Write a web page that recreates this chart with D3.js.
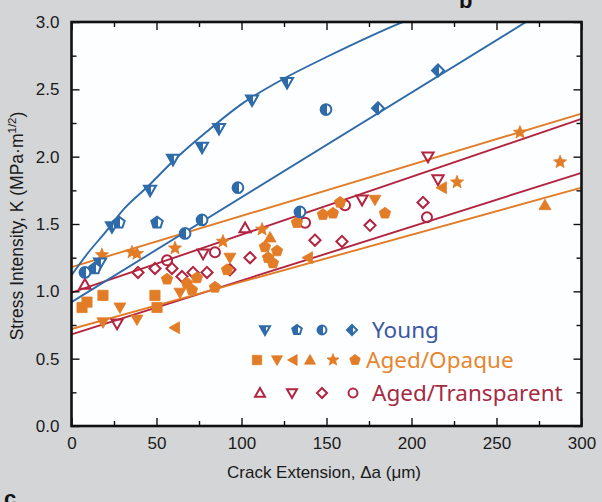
<!DOCTYPE html>
<html>
<head>
<meta charset="utf-8">
<script src="https://cdn.jsdelivr.net/npm/d3@7"></script>
<style>
body { margin: 0; background: #d4d5d7; }
svg { display: block; }
.tick text { font-family: "Liberation Sans", Arial, sans-serif; font-size: 17px; fill: #1a1a1a; }
.tick line { stroke: #111; stroke-width: 1.4px; }
</style>
</head>
<body>
<div id="main"></div>
<script>
var width = 602;
var height = 502;

// data: [crack extension (um), K (MPa m^1/2)]
var youngTriDown = [[16.8, 1.21], [23.8, 1.48], [46.2, 1.75], [59.7, 1.98], [76.8, 2.07], [86.8, 2.21], [106.2, 2.42], [126.8, 2.55]];
var youngPentagon = [[13.8, 1.17], [27.9, 1.51], [50.3, 1.51]];
var youngCircle = [[7.9, 1.14], [66.8, 1.43], [76.8, 1.53], [97.9, 1.77], [134.4, 1.59], [149.7, 2.35]];
var youngDiamond = [[180.3, 2.36], [215.6, 2.64]];

var opaqueSquare = [[6.2, 0.88], [9.1, 0.92], [18.5, 0.97], [49.1, 0.97], [50.3, 0.88]];
var opaqueTriDown = [[18.5, 0.77], [28.5, 0.88], [38.5, 0.79], [63.8, 0.99], [93.2, 1.25], [178.5, 1.68]];
var opaqueTriLeft = [[60.9, 0.73], [139.1, 1.25], [217.9, 1.77]];
var opaqueTriUp = [[116.8, 1.40], [278.5, 1.64]];
var opaqueStar = [[17.9, 1.27], [35.6, 1.29], [38.5, 1.28], [60.9, 1.32], [89.1, 1.37], [112.1, 1.46], [226.8, 1.81], [263.8, 2.18], [287.4, 1.96]];
var opaquePentagon = [[56.2, 1.09], [67.9, 1.06], [70.9, 1.01], [73.8, 1.10], [84.4, 1.03], [91.5, 1.16], [113.8, 1.33], [115.6, 1.25], [118.5, 1.21], [120.9, 1.30], [132.6, 1.51], [147.9, 1.57], [153.8, 1.58], [158, 1.66], [184.4, 1.58]];

var transTriUp = [[7.9, 1.05], [102.1, 1.47]];
var transTriDown = [[26.8, 0.76], [77.4, 1.28], [170.9, 1.68], [209.7, 2.0], [215.6, 1.83]];
var transDiamond = [[39.1, 1.14], [49.1, 1.17], [59.1, 1.17], [65, 1.11], [71.5, 1.14], [79.7, 1.14], [93.2, 1.16], [105, 1.25], [143.2, 1.38], [159.1, 1.37], [175.6, 1.49], [206.8, 1.66]];
var transCircle = [[56.2, 1.23], [84.4, 1.29], [137.4, 1.51], [160.9, 1.64], [209.1, 1.55]];

// fitted curves
var fitYoungUpper = [[0, 1.12], [10, 1.29], [20, 1.44], [30, 1.6], [45, 1.78], [60, 1.97], [80, 2.19], [100, 2.39], [125, 2.58], [150, 2.74], [175, 2.89], [193, 2.99], [205, 3.05]];
var fitYoungLower = [[0, 0.92], [275, 3.06]];
var fitOpaqueUpper = [[0, 1.18], [300, 2.32]];
var fitOpaqueLower = [[0, 0.72], [300, 1.77]];
var fitTransUpper = [[0, 0.99], [300, 2.28]];
var fitTransLower = [[0, 0.68], [300, 1.88]];

var xMajor = [0, 50, 100, 150, 200, 250, 300];
var xMinor = [25, 75, 125, 175, 225, 275];
var yMajor = [0, 0.5, 1.0, 1.5, 2.0, 2.5, 3.0];
var yMinor = [0.25, 0.75, 1.25, 1.75, 2.25, 2.75];

var legendLabels = ['Young', 'Aged/Opaque', 'Aged/Transparent'];

var colors = {young: '#2f6aa9', opaque: '#e27c26', trans: '#b3243f'};
var textColors = {young: '#3b58a3', opaque: '#e6862e', trans: '#a52a3f'};

var plot = {l: 71.5, r: 581.5, t: 22, b: 426};

var xScale = d3.scaleLinear().domain([0, 300]).range([plot.l, plot.r]);
var yScale = d3.scaleLinear().domain([0, 3]).range([plot.b, plot.t]);

var svg = d3.select('#main').append('svg')
    .attr('width', width)
    .attr('height', height);

var defs = svg.append('defs');
defs.append('clipPath').attr('id', 'plotClip')
    .append('rect')
    .attr('x', plot.l).attr('y', plot.t)
    .attr('width', plot.r - plot.l).attr('height', plot.b - plot.t);

var grad = defs.append('linearGradient').attr('id', 'halfBlue')
    .attr('x1', '0%').attr('x2', '100%').attr('y1', '0%').attr('y2', '0%');
grad.append('stop').attr('offset', '60%').attr('stop-color', colors.young);
grad.append('stop').attr('offset', '60%').attr('stop-color', '#ffffff');

svg.append('rect')
    .attr('x', plot.l).attr('y', plot.t)
    .attr('width', plot.r - plot.l).attr('height', plot.b - plot.t)
    .attr('fill', '#fdfeff');

function markerPath(type, r) {
    var pts;
    if (type == 'circle') {
        return d3.symbol().type(d3.symbolCircle).size(Math.PI * r * r * 0.8)();
    }
    if (type == 'square') pts = [[-r * 0.85, -r * 0.85], [r * 0.85, -r * 0.85], [r * 0.85, r * 0.85], [-r * 0.85, r * 0.85]];
    if (type == 'triUp') pts = [[0, -r], [r, r * 0.75], [-r, r * 0.75]];
    if (type == 'triDown') pts = [[-r, -r * 0.75], [r, -r * 0.75], [0, r]];
    if (type == 'triLeft') pts = [[-r, 0], [r * 0.75, -r], [r * 0.75, r]];
    if (type == 'diamond') pts = [[0, -r], [r, 0], [0, r], [-r, 0]];
    if (type == 'pentagon') {
        pts = d3.range(5).map(function(i) {
            var a = -Math.PI / 2 + i * 2 * Math.PI / 5;
            return [r * Math.cos(a), r * Math.sin(a)];
        });
    }
    if (type == 'star') {
        pts = d3.range(10).map(function(i) {
            var a = -Math.PI / 2 + i * Math.PI / 5;
            var rr = i % 2 == 0 ? r * 1.15 : r * 0.5;
            return [rr * Math.cos(a), rr * Math.sin(a)];
        });
    }
    return 'M' + pts.map(function(p) { return p[0].toFixed(2) + ',' + p[1].toFixed(2); }).join('L') + 'Z';
}

function styleMarker(sel, group) {
    if (group == 'young') {
        sel.attr('fill', 'url(#halfBlue)').attr('stroke', colors.young).attr('stroke-width', 2);
    } else if (group == 'opaque') {
        sel.attr('fill', colors.opaque).attr('stroke', colors.opaque).attr('stroke-width', 0.8);
    } else {
        sel.attr('fill', 'none').attr('stroke', colors.trans).attr('stroke-width', 2);
    }
}

// fit lines
var fits = [
    {data: fitTransUpper, group: 'trans', curve: d3.curveLinear},
    {data: fitTransLower, group: 'trans', curve: d3.curveLinear},
    {data: fitOpaqueUpper, group: 'opaque', curve: d3.curveLinear},
    {data: fitOpaqueLower, group: 'opaque', curve: d3.curveLinear},
    {data: fitYoungUpper, group: 'young', curve: d3.curveMonotoneX},
    {data: fitYoungLower, group: 'young', curve: d3.curveLinear}
];

var lineLayer = svg.append('g').attr('clip-path', 'url(#plotClip)');
fits.forEach(function(f) {
    var line = d3.line()
        .x(function(d) { return xScale(d[0]); })
        .y(function(d) { return yScale(d[1]); })
        .curve(f.curve);
    lineLayer.append('path')
        .attr('d', line(f.data))
        .attr('fill', 'none')
        .attr('stroke', colors[f.group])
        .attr('stroke-width', 1.9);
});

// markers
var series = [
    {data: transTriUp, shape: 'triUp', group: 'trans'},
    {data: transTriDown, shape: 'triDown', group: 'trans'},
    {data: transDiamond, shape: 'diamond', group: 'trans'},
    {data: transCircle, shape: 'circle', group: 'trans'},
    {data: opaqueSquare, shape: 'square', group: 'opaque'},
    {data: opaqueTriDown, shape: 'triDown', group: 'opaque'},
    {data: opaqueTriLeft, shape: 'triLeft', group: 'opaque'},
    {data: opaqueTriUp, shape: 'triUp', group: 'opaque'},
    {data: opaqueStar, shape: 'star', group: 'opaque'},
    {data: opaquePentagon, shape: 'pentagon', group: 'opaque'},
    {data: youngTriDown, shape: 'triDown', group: 'young'},
    {data: youngPentagon, shape: 'pentagon', group: 'young'},
    {data: youngCircle, shape: 'circle', group: 'young'},
    {data: youngDiamond, shape: 'diamond', group: 'young'}
];

var markLayer = svg.append('g').attr('clip-path', 'url(#plotClip)');
series.forEach(function(s) {
    var r = s.group == 'trans' ? 5.6 : 6;
    markLayer.selectAll(null)
        .data(s.data)
        .enter()
        .append('path')
        .attr('class', 'dot')
        .attr('d', markerPath(s.shape, r))
        .attr('transform', function(d) {
            return `translate(${xScale(d[0])}, ${yScale(d[1])})`;
        })
        .call(styleMarker, s.group);
});

// axes, ticks inside
function drawAxis(axis, transform, labels) {
    var g = svg.append('g').attr('transform', transform).call(axis);
    g.select('.domain').remove();
    if (!labels) g.selectAll('text').remove();
    return g;
}

drawAxis(d3.axisBottom(xScale).tickValues(xMajor).tickSize(-8).tickPadding(11).tickFormat(d3.format('d')),
    `translate(0, ${plot.b})`, true);
drawAxis(d3.axisBottom(xScale).tickValues(xMinor).tickSize(-5).tickFormat(''), `translate(0, ${plot.b})`, false);
drawAxis(d3.axisTop(xScale).tickValues(xMajor).tickSize(-8), `translate(0, ${plot.t})`, false);
drawAxis(d3.axisTop(xScale).tickValues(xMinor).tickSize(-5), `translate(0, ${plot.t})`, false);

drawAxis(d3.axisLeft(yScale).tickValues(yMajor).tickSize(-8).tickPadding(12).tickFormat(d3.format('.1f')),
    `translate(${plot.l}, 0)`, true);
drawAxis(d3.axisLeft(yScale).tickValues(yMinor).tickSize(-5).tickFormat(''), `translate(${plot.l}, 0)`, false);
drawAxis(d3.axisRight(yScale).tickValues(yMajor).tickSize(-8), `translate(${plot.r}, 0)`, false);
drawAxis(d3.axisRight(yScale).tickValues(yMinor).tickSize(-5), `translate(${plot.r}, 0)`, false);

// frame
svg.append('rect')
    .attr('x', plot.l).attr('y', plot.t)
    .attr('width', plot.r - plot.l).attr('height', plot.b - plot.t)
    .attr('fill', 'none')
    .attr('stroke', '#111')
    .attr('stroke-width', 2.6);

// axis titles
svg.append('text')
    .attr('x', 324)
    .attr('y', 478)
    .attr('text-anchor', 'middle')
    .style('font-family', '"Liberation Sans", Arial, sans-serif')
    .style('font-size', '17px')
    .style('fill', '#1a1a1a')
    .text('Crack Extension, \u0394a (\u03bcm)');

var yTitle = svg.append('text')
    .attr('transform', `translate(23, ${(plot.t + plot.b) / 2 + 2}) rotate(-90)`)
    .attr('text-anchor', 'middle')
    .style('font-family', '"Liberation Sans", Arial, sans-serif')
    .style('font-size', '17.5px')
    .style('fill', '#1a1a1a');
yTitle.append('tspan').text('Stress Intensity, K (MPa\u00b7m');
yTitle.append('tspan').attr('dy', -7).style('font-size', '11.5px').text('1/2');
yTitle.append('tspan').attr('dy', 7).text(')');

// legend
var legendRows = [
    {group: 'young', y: 330, textX: 372, shapes: [['triDown', 265], ['pentagon', 297], ['circle', 322], ['diamond', 352]]},
    {group: 'opaque', y: 360, textX: 366, shapes: [['square', 257], ['triDown', 277], ['triLeft', 293], ['triUp', 310], ['star', 333], ['pentagon', 355]]},
    {group: 'trans', y: 393, textX: 372, shapes: [['triUp', 260], ['triDown', 292], ['diamond', 322], ['circle', 353]]}
];

var legend = svg.append('g').attr('class', 'legend');
legendRows.forEach(function(row, i) {
    row.shapes.forEach(function(s) {
        legend.append('path')
            .attr('d', markerPath(s[0], row.group == 'opaque' ? 5.5 : 5))
            .attr('transform', `translate(${s[1]}, ${row.y})`)
            .call(styleMarker, row.group);
    });
    legend.append('text')
        .attr('x', row.textX)
        .attr('y', row.y + 8)
        .style('font-family', '"Noto Sans", "Open Sans", sans-serif')
        .style('font-size', '22.5px')
        .style('fill', textColors[row.group])
        .text(legendLabels[i]);
});

// panel letters cut by the page edge, as in the source figure
svg.append('text')
    .attr('x', 459).attr('y', 8)
    .style('font-family', '"Liberation Sans", sans-serif')
    .style('font-weight', 'bold')
    .style('font-size', '22px')
    .style('fill', '#111')
    .text('b');
svg.append('text')
    .attr('x', 4).attr('y', 506)
    .style('font-family', '"Liberation Sans", sans-serif')
    .style('font-weight', 'bold')
    .style('font-size', '22px')
    .style('fill', '#111')
    .text('c');
</script>
</body>
</html>
